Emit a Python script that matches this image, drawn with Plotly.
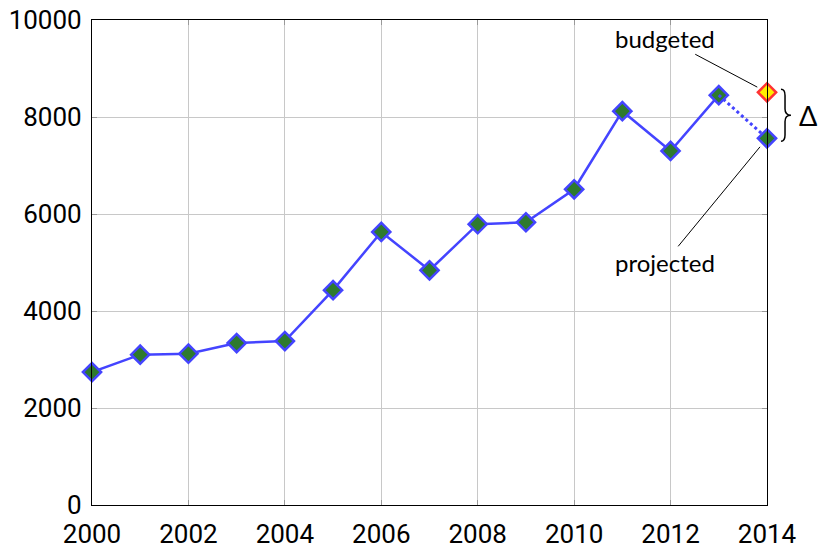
import plotly.graph_objects as go

years = list(range(2000, 2014))
values = [2740, 3100, 3120, 3340, 3380, 4430, 5630, 4840, 5790, 5830, 6510, 8120, 7300, 8450]
proj_year = 2014
projected = 7560
budgeted = 8510
x_ticks = list(range(2000, 2015, 2))
y_ticks = list(range(0, 10001, 2000))

BLUE = "#4444ff"
GREEN = "#2e7a2e"
TICKFONT = dict(family="Roboto, sans-serif", size=26, color="black")
TEXTFONT = dict(family="Lato, DejaVu Sans, sans-serif", size=24, color="black")

MK = dict(symbol="diamond", size=14, color=GREEN, line=dict(color=BLUE, width=2.5))

fig = go.Figure()
fig.add_trace(go.Scatter(
    x=years, y=values, mode="lines+markers",
    line=dict(color=BLUE, width=2.5), marker=MK,
    cliponaxis=False, showlegend=False))
fig.add_trace(go.Scatter(
    x=[years[-1], proj_year], y=[values[-1], projected], mode="lines",
    line=dict(color=BLUE, width=3, dash="dot"), cliponaxis=False, showlegend=False))
fig.add_trace(go.Scatter(
    x=[proj_year], y=[projected], mode="markers", marker=MK,
    cliponaxis=False, showlegend=False))
fig.add_trace(go.Scatter(
    x=[proj_year], y=[budgeted], mode="markers",
    marker=dict(symbol="diamond", size=14, color="#ffee00", line=dict(color="#ff3333", width=2.5)),
    cliponaxis=False, showlegend=False))

fig.add_annotation(x=proj_year, y=budgeted, xref="x", yref="y", text="budgeted",
                   showarrow=True, arrowhead=0, arrowwidth=1, arrowcolor="black",
                   ax=-102, ay=-54, standoff=11, font=TEXTFONT)
fig.add_annotation(x=proj_year, y=projected, xref="x", yref="y", text="projected",
                   showarrow=True, arrowhead=0, arrowwidth=1, arrowcolor="black",
                   ax=-102, ay=124, standoff=11, font=TEXTFONT)

# brace between budgeted and projected
xl, xm, xt = 1.0207, 1.0267, 1.0355
top, bot = budgeted + 60, projected - 60
mid = (top + bot) / 2
d = (top - bot) * 0.12
path = (f"M {xl},{top} Q {xm},{top} {xm},{top-d} L {xm},{mid+d} Q {xm},{mid} {xt},{mid} "
        f"Q {xm},{mid} {xm},{mid-d} L {xm},{bot+d} Q {xm},{bot} {xl},{bot}")
fig.add_shape(type="path", path=path, xref="paper", yref="y", line=dict(color="black", width=1.5))
fig.add_annotation(x=1.061, y=mid, xref="paper", yref="y", text="Δ", showarrow=False,
                   xanchor="center", yanchor="middle",
                   font=dict(family="Lato, DejaVu Sans, sans-serif", size=27, color="black"))

axis_common = dict(showgrid=True, gridcolor="#c8c8c8", gridwidth=1, showline=True,
                   linecolor="black", linewidth=1.2, mirror="ticks", ticks="inside",
                   ticklen=5, tickcolor="#999999", zeroline=False, tickfont=TICKFONT,
                   automargin=False, ticklabeloverflow="allow")
fig.update_xaxes(range=[2000, 2014], tickvals=x_ticks, ticktext=[str(v) for v in x_ticks],
                 ticklabelstandoff=6, **axis_common)
fig.update_yaxes(range=[0, 10000], tickvals=y_ticks, ticktext=[str(v) for v in y_ticks],
                 ticklabelstandoff=4, **axis_common)

fig.update_layout(width=821, height=549, margin=dict(l=92, r=54, t=20, b=44),
                  plot_bgcolor="white", paper_bgcolor="white")
fig.write_html("out.html", config={"displayModeBar": False},
               post_script="document.body.style.margin='0';document.body.style.overflow='hidden';")
